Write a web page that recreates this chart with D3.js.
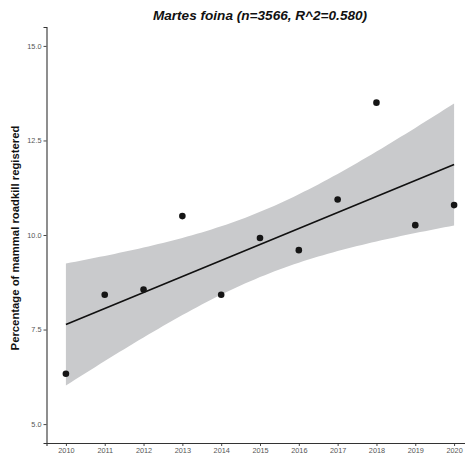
<!DOCTYPE html>
<html>
<head>
<meta charset="utf-8">
<script src="https://cdn.jsdelivr.net/npm/d3@7"></script>
<style>
  html, body { margin: 0; padding: 0; background: #fff; }
  svg { display: block; }
</style>
</head>
<body>
<svg id="chart" width="465" height="460"></svg>
<script>
// Yearly share of mammal roadkill attributed to Martes foina
const years = [2010, 2011, 2012, 2013, 2014, 2015, 2016, 2017, 2018, 2019, 2020];
const percentages = [6.33, 8.42, 8.56, 10.50, 8.42, 9.92, 9.60, 10.94, 13.50, 10.26, 10.79];
const yTicks = [5.0, 7.5, 10.0, 12.5, 15.0];
const xTicks = years;
const title = "Martes foina (n=3566, R^2=0.580)";
const yLabel = "Percentage of mammal roadkill registered";

const W = 465, H = 460;
const margin = { left: 46.5, right: -8.5, top: 27, bottom: 17 };
const svg = d3.select("#chart");

const x = d3.scaleLinear()
  .domain([2009.5, 2020.5])
  .range([margin.left, W - margin.right]);
const y = d3.scaleLinear()
  .domain([4.5, 15.5])
  .range([H - margin.bottom, margin.top]);

// Ordinary least squares fit with a 95% confidence band (t, df = n - 2)
const n = years.length;
const xm = d3.mean(years), ym = d3.mean(percentages);
const sxx = d3.sum(years, v => (v - xm) ** 2);
const sxy = d3.sum(years, (v, i) => (v - xm) * (percentages[i] - ym));
const slope = sxy / sxx, intercept = ym - slope * xm;
const rss = d3.sum(years, (v, i) => (percentages[i] - (intercept + slope * v)) ** 2);
const sigma = Math.sqrt(rss / (n - 2));
const tCrit = 2.262157;
const fit = d3.range(0, 81).map(k => {
  const xv = 2010 + k * 10 / 80;
  const yv = intercept + slope * xv;
  const se = sigma * Math.sqrt(1 / n + (xv - xm) ** 2 / sxx);
  return { x: xv, y: yv, lo: yv - tCrit * se, hi: yv + tCrit * se };
});

svg.append("path")
  .datum(fit)
  .attr("fill", "#c9cacc")
  .attr("d", d3.area().x(d => x(d.x)).y0(d => y(d.lo)).y1(d => y(d.hi)));

svg.append("path")
  .datum(fit)
  .attr("fill", "none")
  .attr("stroke", "#111")
  .attr("stroke-width", 1.6)
  .attr("d", d3.line().x(d => x(d.x)).y(d => y(d.y)));

svg.append("g")
  .selectAll("circle")
  .data(years)
  .join("circle")
  .attr("cx", d => x(d))
  .attr("cy", (d, i) => y(percentages[i]))
  .attr("r", 3.3)
  .attr("fill", "#151515");

// Axes
const axisColor = "#333";
const xAxis = svg.append("g")
  .attr("transform", `translate(0,${H - margin.bottom})`)
  .call(d3.axisBottom(x).tickValues(xTicks).tickFormat(d3.format("d")).tickSize(3).tickPadding(2));
const yAxis = svg.append("g")
  .attr("transform", `translate(${margin.left},0)`)
  .call(d3.axisLeft(y).tickValues(yTicks).tickFormat(d3.format(".1f")).tickSize(3).tickPadding(2));

[xAxis, yAxis].forEach(g => {
  g.select(".domain").attr("stroke", axisColor).attr("stroke-width", 1.1);
  g.selectAll(".tick line").attr("stroke", axisColor).attr("stroke-width", 0.9);
  g.selectAll(".tick text")
    .attr("fill", "#555")
    .style("font-family", "'Liberation Sans', Arial, sans-serif")
    .style("font-size", "7.3px");
});

svg.append("text")
  .attr("x", (margin.left + W - margin.right) / 2)
  .attr("y", 20)
  .attr("text-anchor", "middle")
  .style("font-family", "'Liberation Sans', Arial, sans-serif")
  .style("font-size", "13.6px")
  .style("font-weight", "bold")
  .style("font-style", "italic")
  .attr("fill", "#111")
  .text(title);

svg.append("text")
  .attr("transform", "translate(19,238) rotate(-90)")
  .attr("text-anchor", "middle")
  .style("font-family", "'Liberation Sans', Arial, sans-serif")
  .style("font-size", "11.3px")
  .style("font-weight", "bold")
  .attr("fill", "#111")
  .text(yLabel);
</script>
</body>
</html>
